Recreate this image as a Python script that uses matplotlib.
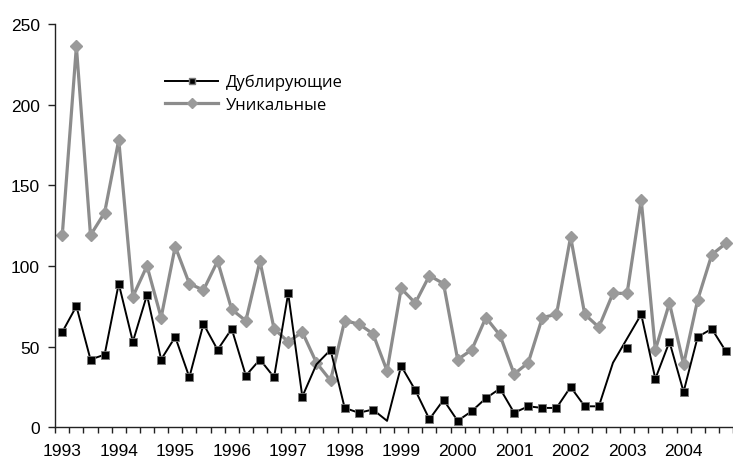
import numpy as np
import matplotlib
matplotlib.use("Agg")
import matplotlib.pyplot as plt

# quarterly data, 1993 Q1 .. 2004 Q4
years = list(range(1993, 2005))
duplicating = [59, 75, 42, 45, 89, 53, 82, 42, 56, 31, 64, 48,
               61, 32, 42, 31, 83, 19, 39, 48, 12, 9, 11, 4,
               38, 23, 5, 17, 4, 10, 18, 24, 9, 13, 12, 12,
               25, 13, 13, 40, 49, 70, 30, 53, 22, 56, 61, 47]
unique = [119, 236, 119, 133, 178, 81, 100, 68, 112, 89, 85, 103,
          73, 66, 103, 61, 53, 59, 40, 29, 66, 64, 58, 35,
          86, 77, 94, 89, 42, 48, 68, 57, 33, 40, 68, 70,
          118, 70, 62, 83, 83, 141, 48, 77, 39, 79, 107, 114]
# points of the black series drawn without a marker / not joined by the line
no_marker = [18, 23, 39]
off_line = [40]

x = np.arange(len(unique))
dup = np.array(duplicating, dtype=float)

fig = plt.figure(figsize=(7.33, 4.6), dpi=100)
ax = fig.add_axes([55.2 / 733, 1 - 428.3 / 460, 1 - 55.2 / 733, (428.3 - 24.8) / 460])

ax.plot(x, unique, color="#8c8c8c", lw=2.3, marker="D", ms=6.5,
        mfc="#9a9a9a", mec="#9a9a9a", label="Уникальные", zorder=2)

line_idx = [i for i in x if i not in off_line]
ax.plot(x[line_idx], dup[line_idx], color="black", lw=1.4, zorder=3)
mark_idx = [i for i in x if i not in no_marker]
ax.plot(x[mark_idx], dup[mark_idx], ls="none", marker="s", ms=6.3,
        mfc="black", mec="#777777", mew=0.6, zorder=4)

# legend proxies
h1, = ax.plot([], [], color="black", lw=1.4, marker="s", ms=5, mfc="black", mec="#777777")
h2, = ax.plot([], [], color="#8c8c8c", lw=2.3, marker="D", ms=5.5, mfc="#9a9a9a", mec="#9a9a9a")
leg = ax.legend([h1, h2], ["Дублирующие", "Уникальные"], loc="upper left",
                bbox_to_anchor=(150 / 733, 1 - 60 / 460), bbox_transform=fig.transFigure,
                frameon=False, handlelength=3.2, handletextpad=0.45,
                labelspacing=0.4, prop={"family": "Open Sans", "size": 12})

ax.set_xlim(-0.5, 47.33)
ax.set_ylim(0, 250)
ax.set_yticks(range(0, 251, 50))
ax.set_xticks(np.arange(0, 48, 4))
ax.set_xticklabels([str(y) for y in years])
ax.set_xticks(np.arange(-0.5, 48, 1), minor=True)

for s in ["top", "right"]:
    ax.spines[s].set_visible(False)
for s in ["left", "bottom"]:
    ax.spines[s].set_linewidth(1.0)
    ax.spines[s].set_color("#222222")

ax.tick_params(axis="x", which="major", length=0, pad=11, labelsize=12.5)
ax.tick_params(axis="x", which="minor", length=4, width=1, color="#222222", direction="out")
ax.tick_params(axis="y", length=5, width=1, color="#222222", pad=6, labelsize=12.5)
for lab in ax.get_xticklabels() + ax.get_yticklabels():
    lab.set_family("Liberation Sans")

fig.savefig("out.png", dpi=100)
